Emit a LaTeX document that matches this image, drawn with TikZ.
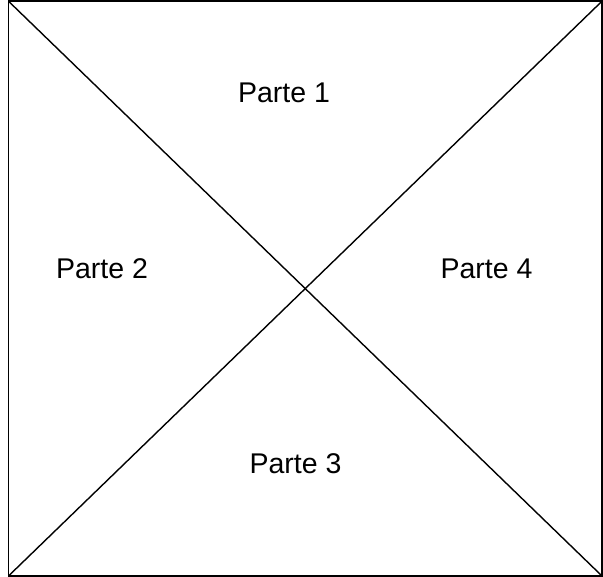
\documentclass[tikz,border=0pt]{standalone}
\usepackage{fontspec}
\setmainfont{Liberation Sans}
\begin{document}
\begin{tikzpicture}[x=1pt,y=-1pt,
  edge/.style={draw=black,line width=1.4pt},
  part/.style={anchor=base,inner sep=0pt,font=\fontsize{28.5}{34}\selectfont}]
  \useasboundingbox (0,0) rectangle (603,577);
  % square corners
  \coordinate (tl) at (8.5,1.2);
  \coordinate (tr) at (602,1.2);
  \coordinate (br) at (602,576);
  \coordinate (bl) at (8.5,576);
  \draw[edge] (tl) -- (tr) -- (br) -- (bl) -- cycle;
  % diagonals
  \draw[edge] (tl) -- (br);
  \draw[edge] (bl) -- (tr);
  % region labels
  \node[part] (p1) at (284,103) {Parte 1};
  \node[part] (p2) at (102,279) {Parte 2};
  \node[part] (p3) at (295.5,474) {Parte 3};
  \node[part] (p4) at (486.5,279) {Parte 4};
\end{tikzpicture}
\end{document}
